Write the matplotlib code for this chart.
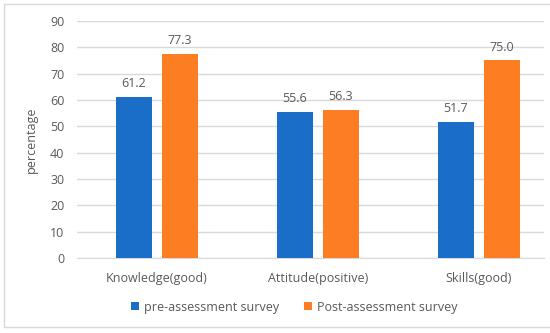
import numpy as np
import matplotlib
matplotlib.use("Agg")
import matplotlib.pyplot as plt
from matplotlib.patches import Rectangle

# data
categories = ["Knowledge(good)", "Attitude(positive)", "Skills(good)"]
pre_values = [61.2, 55.6, 51.7]
post_values = [77.3, 56.3, 75.0]
series_names = ["pre-assessment survey", "Post-assessment survey"]

plt.rcParams['font.family'] = ['Open Sans', 'DejaVu Sans']
text_color = '#595959'
grid_color = '#d9d9d9'

fig = plt.figure(figsize=(5.5, 3.33), dpi=100)
ax = fig.add_axes([0.14, 0.225, 0.849, 0.712])

x = np.arange(len(categories))
w = 0.224
b1 = ax.bar(x - 0.143, pre_values, w, color='#1b6ec8', label=series_names[0], zorder=3)
b2 = ax.bar(x + 0.143, post_values, w, color='#fd7e22', label=series_names[1], zorder=3)

for bars in (b1, b2):
    for rect in bars:
        h = rect.get_height()
        ax.annotate(f"{h:.1f}", (rect.get_x() + rect.get_width() / 2, h),
                    xytext=(0, 5), textcoords='offset points',
                    ha='center', va='bottom', fontsize=9, color=text_color)

ax.set_ylim(0, 90)
ax.set_yticks(range(0, 91, 10))
ax.set_xlim(-0.498, 2.407)
ax.set_xticks(x)
ax.set_xticklabels(categories)
ax.yaxis.grid(True, color=grid_color, linewidth=1, zorder=0)
ax.tick_params(axis='both', length=0, labelsize=9, colors=text_color)
ax.tick_params(axis='x', pad=10)
ax.tick_params(axis='y', pad=9)
for s in ['top', 'right', 'left']:
    ax.spines[s].set_visible(False)
ax.spines['bottom'].set_color(grid_color)
ax.set_ylabel("percentage", fontsize=9, color=text_color, labelpad=9)

leg = fig.legend(loc='center', bbox_to_anchor=(0.535, 0.078), ncol=2, frameon=False,
                 fontsize=9, handlelength=0.6, handleheight=0.6, handletextpad=0.4,
                 columnspacing=2.0)
for t in leg.get_texts():
    t.set_color(text_color)

# light chart border
fig.patches.append(Rectangle((0.008, 0.018), 1.1, 0.97, transform=fig.transFigure,
                             fill=False, edgecolor='#d9d9d9', linewidth=1))

fig.savefig("out.png", dpi=100)
